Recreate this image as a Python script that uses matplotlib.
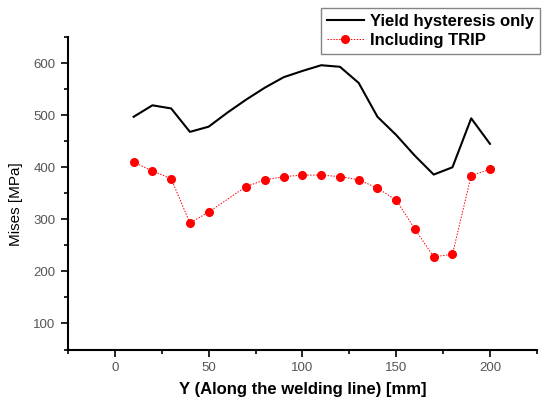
import numpy as np
import matplotlib
matplotlib.use("Agg")
import matplotlib.pyplot as plt
from matplotlib.ticker import MultipleLocator

plt.rcParams['font.family'] = ['Liberation Sans', 'DejaVu Sans']

# black solid curve
y_pos = [10, 20, 30, 40, 50, 60, 70, 80, 90, 100, 110, 120, 130, 140, 150, 160, 170, 180, 190, 200]
yield_only = [497, 519, 513, 468, 478, 505, 530, 553, 573, 585, 596, 593, 562, 497, 462, 422, 386, 400, 494, 445]

# red dotted with markers
trip_pos = [10, 20, 30, 40, 50, 70, 80, 90, 100, 110, 120, 130, 140, 150, 160, 170, 180, 190, 200]
trip_vals = [410, 393, 378, 293, 314, 363, 376, 382, 385, 385, 382, 376, 360, 337, 281, 228, 233, 384, 396]

fig = plt.figure(figsize=(5.42, 3.99), dpi=100)
ax = fig.add_axes([0.1255, 0.124, 0.865, 0.783])

ax.plot(y_pos, yield_only, color='black', lw=1.5, label='Yield hysteresis only')
ax.plot(trip_pos, trip_vals, color='red', lw=0.7, ls=(0, (1.5, 1.5)), marker='o',
        ms=5.5, label='Including TRIP')

ax.set_xlim(-25, 225)
ax.set_ylim(50, 650)
ax.xaxis.set_major_locator(MultipleLocator(50))
ax.xaxis.set_minor_locator(MultipleLocator(25))
ax.yaxis.set_minor_locator(MultipleLocator(50))
ax.set_yticks([100, 200, 300, 400, 500, 600])
ax.tick_params(which='both', direction='out', length=5, width=1.2, labelsize=9.5,
               labelcolor='#555555', pad=4)
ax.tick_params(which='minor', length=3)

for s in ['top', 'right']:
    ax.spines[s].set_visible(False)
for s in ['left', 'bottom']:
    ax.spines[s].set_linewidth(1.5)

ax.set_ylabel('Mises [MPa]', fontsize=11)
ax.yaxis.set_label_coords(-0.096, 0.465)
ax.set_xlabel('Y (Along the welding line) [mm]', fontsize=12, fontweight='bold', labelpad=6)

leg = fig.legend(loc='upper left', bbox_to_anchor=(321 / 542, 1 - 8 / 399), frameon=True,
                 fancybox=False, edgecolor='#666666', prop={'weight': 'bold', 'size': 12},
                 handlelength=2.2, borderpad=0.35, labelspacing=0.25, handletextpad=0.4,
                 borderaxespad=0)
leg.get_frame().set_linewidth(1)

fig.savefig('out.png', dpi=100)
